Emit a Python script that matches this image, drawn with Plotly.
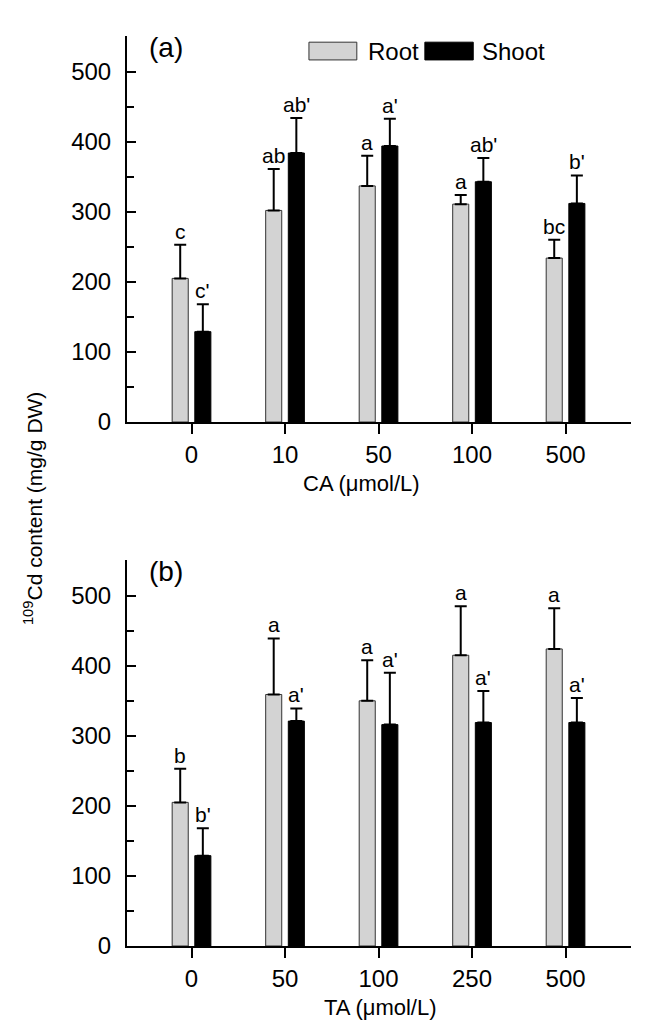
import plotly.graph_objects as go
from plotly.subplots import make_subplots

# ---- data ----
ca_levels = ["0", "10", "50", "100", "500"]
ca_root = [205, 302, 337, 311, 234]
ca_root_err = [48, 59, 43, 13, 26]
ca_shoot = [129, 384, 394, 343, 312]
ca_shoot_err = [39, 50, 39, 34, 40]
ca_root_letters = ["c", "ab", "a", "a", "bc"]
ca_shoot_letters = ["c'", "ab'", "a'", "ab'", "b'"]

ta_levels = ["0", "50", "100", "250", "500"]
ta_root = [205, 359, 350, 415, 424]
ta_root_err = [48, 80, 58, 70, 58]
ta_shoot = [129, 321, 316, 319, 319]
ta_shoot_err = [39, 18, 74, 45, 35]
ta_root_letters = ["b", "a", "a", "a", "a"]
ta_shoot_letters = ["b'", "a'", "a'", "a'", "a'"]

series_names = ["Root", "Shoot"]
x_titles = ["CA (μmol/L)", "TA (μmol/L)"]
ROOT_COLOR = "#d3d3d3"
SHOOT_COLOR = "#000000"
FONT = "Liberation Sans, Arial, sans-serif"

BARGAP = 0.516
GROUPGAP = 0.29
slot = (1 - BARGAP) / 2  # width of each bar slot in category units
offsets = [-slot / 2, slot / 2]

fig = make_subplots(rows=2, cols=1)

panels = [
    (1, ca_levels, ca_root, ca_root_err, ca_shoot, ca_shoot_err, ca_root_letters, ca_shoot_letters),
    (2, ta_levels, ta_root, ta_root_err, ta_shoot, ta_shoot_err, ta_root_letters, ta_shoot_letters),
]

for row, levels, root, rerr, shoot, serr, rlet, slet in panels:
    for name, vals, errs, color, lc in [
        (series_names[0], root, rerr, ROOT_COLOR, "#333333"),
        (series_names[1], shoot, serr, SHOOT_COLOR, "#000000"),
    ]:
        fig.add_trace(
            go.Bar(
                x=levels, y=vals, name=name, showlegend=False,
                marker=dict(color=color, line=dict(color=lc, width=1)),
                error_y=dict(type="data", symmetric=False, array=errs,
                             arrayminus=[0] * len(errs), color="black",
                             thickness=2, width=6),
            ),
            row=row, col=1,
        )
    # significance letters
    xa = "x" if row == 1 else "x2"
    ya = "y" if row == 1 else "y2"
    for letters, vals, errs, off in [(rlet, root, rerr, offsets[0]), (slet, shoot, serr, offsets[1])]:
        for i, (lt, v, e) in enumerate(zip(letters, vals, errs)):
            fig.add_annotation(
                x=i + off, y=v + e, xref=xa, yref=ya, text=lt, showarrow=False,
                yanchor="bottom", xanchor="center", yshift=0,
                font=dict(family=FONT, size=21, color="black"),
            )

top_dom = [0.5758, 1.0]
bot_dom = [0.0, 0.4242]

axis_common = dict(showline=True, linecolor="black", linewidth=2, showgrid=False,
                   zeroline=False, tickfont=dict(family=FONT, size=24, color="black"))

fig.update_xaxes(**axis_common, ticks="outside", ticklen=10, tickwidth=2, tickcolor="black",
                 range=[-0.69, 4.70], domain=[0, 1])
fig.update_yaxes(**axis_common, ticks="inside", ticklen=9, tickwidth=2, tickcolor="black",
                 range=[0, 551], tickvals=[0, 100, 200, 300, 400, 500], ticklabelstandoff=9,
                 minor=dict(dtick=50, tick0=0, ticks="inside", ticklen=7, tickwidth=2,
                            tickcolor="black"))
fig.update_yaxes(domain=top_dom, row=1, col=1)
fig.update_yaxes(domain=bot_dom, row=2, col=1)

# x-axis titles
for title, xr, yr, xpos in [(x_titles[0], "x domain", "y domain", 0.466),
                            (x_titles[1], "x2 domain", "y2 domain", 0.503)]:
    fig.add_annotation(x=xpos, y=-0.16, xref=xr, yref=yr, text=title, showarrow=False,
                       xanchor="center", yanchor="middle",
                       font=dict(family=FONT, size=22, color="black"))

# panel labels
for lab, xr, yr in [("(a)", "x domain", "y domain"), ("(b)", "x2 domain", "y2 domain")]:
    fig.add_annotation(x=0.04, y=0.97, xref=xr, yref=yr, text=lab, showarrow=False,
                       xanchor="left", yanchor="middle",
                       font=dict(family=FONT, size=28, color="black"))

# legend (drawn as swatches + labels in the top panel)
for x0, x1, color, lc, tx, label in [
    (0.361, 0.456, ROOT_COLOR, "#333333", 0.474, series_names[0]),
    (0.591, 0.687, SHOOT_COLOR, "#000000", 0.700, series_names[1]),
]:
    fig.add_shape(type="rect", xref="x domain", yref="y domain", x0=x0, x1=x1, y0=0.938, y1=0.984,
                  fillcolor=color, line=dict(color=lc, width=1))
    fig.add_annotation(x=tx, y=0.961, xref="x domain", yref="y domain", text=label, showarrow=False,
                       xanchor="left", yanchor="middle",
                       font=dict(family=FONT, size=24, color="black"))

# shared y-axis title
fig.add_annotation(x=-0.185, y=0.481, xref="paper", yref="paper",
                   text="<sup>109</sup>Cd content (mg/g DW)", textangle=-90, showarrow=False,
                   xanchor="center", yanchor="middle",
                   font=dict(family=FONT, size=21, color="black"))

fig.update_layout(
    width=645, height=1021,
    margin=dict(l=119, r=22, t=28, b=83),
    barmode="group", bargap=BARGAP, bargroupgap=GROUPGAP,
    plot_bgcolor="white", paper_bgcolor="white",
    font=dict(family=FONT, color="black"),
    showlegend=False,
)

fig.write_html("out.html")
